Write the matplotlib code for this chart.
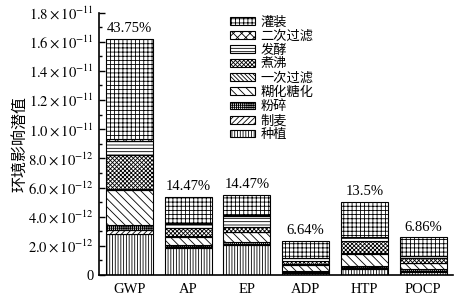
import matplotlib
matplotlib.use("Agg")
import matplotlib.pyplot as plt
import numpy as np

plt.rcParams["font.family"] = ["Liberation Serif", "Noto Sans CJK SC"]
plt.rcParams["mathtext.fontset"] = "stix"
plt.rcParams["hatch.linewidth"] = 0.6

categories = ["GWP", "AP", "EP", "ADP", "HTP", "POCP"]
stages = ["种植", "制麦", "粉碎", "糊化糖化", "一次过滤", "煮沸", "发酵", "二次过滤", "灌装"]

# values in units of 1e-12
zhongzhi = [2.80, 1.83, 2.05, 0.15, 0.40, 0.22]
zhimai = [0.30, 0.10, 0.10, 0.05, 0.10, 0.07]
fensui = [0.30, 0.15, 0.12, 0.10, 0.15, 0.10]
tanghua = [2.45, 0.55, 0.65, 0.40, 0.80, 0.41]
guolv1 = [0.05, 0.05, 0.05, 0.03, 0.03, 0.03]
zhufei = [2.35, 0.55, 0.35, 0.22, 0.85, 0.32]
fajiao = [0.95, 0.30, 0.75, 0.20, 0.25, 0.13]
guolv2 = [0.10, 0.05, 0.05, 0.03, 0.05, 0.03]
guanzhuang = [6.90, 1.80, 1.37, 1.17, 2.40, 1.27]

percent_labels = ["43.75%", "14.47%", "14.47%", "6.64%", "13.5%", "6.86%"]

ytick_values = [0, 2e-12, 4e-12, 6e-12, 8e-12, 1.0e-11, 1.2e-11, 1.4e-11, 1.6e-11, 1.8e-11]
ytick_labels = ["0",
                r"$2.0\times10^{-12}$", r"$4.0\times10^{-12}$", r"$6.0\times10^{-12}$",
                r"$8.0\times10^{-12}$", r"$1.0\times10^{-11}$", r"$1.2\times10^{-11}$",
                r"$1.4\times10^{-11}$", r"$1.6\times10^{-11}$", r"$1.8\times10^{-11}$"]

series = [zhongzhi, zhimai, fensui, tanghua, guolv1, zhufei, fajiao, guolv2, guanzhuang]
hatches = ["||||||", "//////", "++++++++", "\\\\\\\\", "\\\\\\\\\\\\\\\\", "xxxxxxxx", "-----", "xxxx", "++++"]

fig = plt.figure(figsize=(4.6, 2.98), dpi=100)
ax = fig.add_axes([0.215, 0.077, 0.77, 0.881])

x = np.arange(len(categories))
bottom = np.zeros(len(categories))
handles = []
for vals, name, h in zip(series, stages, hatches):
    v = np.array(vals) * 1e-12
    b = ax.bar(x, v, 0.8, bottom=bottom, color="white", edgecolor="black",
               linewidth=0.8, hatch=h, label=name)
    handles.append(b)
    bottom = bottom + v

for xi, top, lab in zip(x, bottom, percent_labels):
    ax.text(xi, top + 0.25e-12, lab, ha="center", va="bottom", fontsize=10.5)

ax.set_xlim(-0.52, 5.51)
ax.set_ylim(0, 1.8e-11)
ax.set_yticks(ytick_values)
ax.set_yticklabels(ytick_labels, fontsize=10.5)
ax.set_yticks(np.arange(1e-12, 1.8e-11, 2e-12), minor=True)
ax.set_xticks(x)
ax.set_xticklabels(categories, fontsize=10.5)
ax.tick_params(axis="y", which="major", direction="in", length=4, width=1)
ax.tick_params(axis="y", which="minor", direction="in", length=2.5, width=1)
ax.tick_params(axis="x", length=0, pad=6)
ax.spines["top"].set_visible(False)
ax.spines["right"].set_visible(False)
ax.spines["left"].set_linewidth(1.2)
ax.spines["bottom"].set_linewidth(1.2)
ax.set_ylabel("环境影响潜值", fontsize=11.5, labelpad=-0.5)

ax.legend(handles[::-1], stages[::-1], loc="upper left", bbox_to_anchor=(0.37, 0.985),
          frameon=False, fontsize=9.5, handlelength=1.9, handleheight=0.5,
          handletextpad=0.4, labelspacing=0.13, borderpad=0, borderaxespad=0)

fig.savefig("out.png", dpi=100)
